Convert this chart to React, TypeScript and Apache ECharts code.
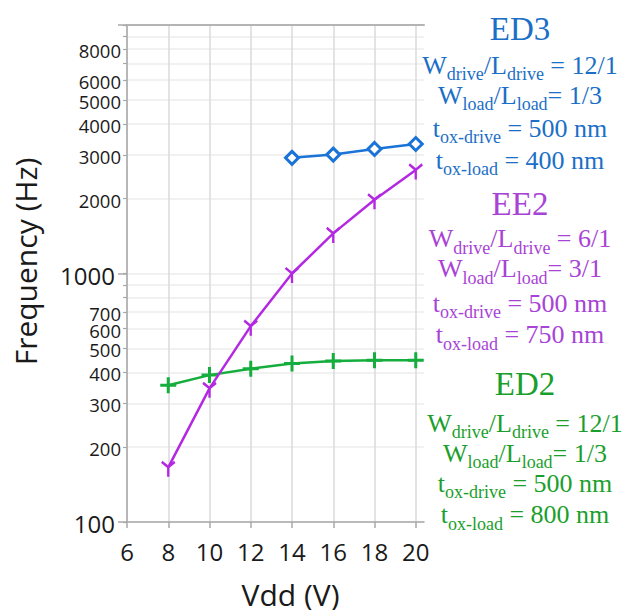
import React, { useEffect, useRef } from 'react';
import * as echarts from 'echarts';

// ---- data ----
const vdd = [8, 10, 12, 14, 16, 18, 20];
const ed3Vdd = [14, 16, 18, 20];
const ed3Freq = [2920, 3010, 3170, 3320];
const ee2Freq = [166, 345, 614, 1000, 1450, 1980, 2610];
const ed2Freq = [355, 390, 414, 434, 445, 448, 448];

const xTickValues = [6, 8, 10, 12, 14, 16, 18, 20];
const yLabelValues = [100, 200, 300, 400, 500, 600, 700, 1000, 2000, 3000, 4000, 5000, 6000, 8000];
const yTickValues = [100, 200, 300, 400, 500, 600, 700, 800, 900, 1000, 2000, 3000, 4000, 5000, 6000, 7000, 8000, 9000, 10000];
const yMajorTicks = [100, 1000, 10000];

const ed3Notes = ['ED3', 'W_{drive}/L_{drive} = 12/1', 'W_{load}/L_{load}= 1/3', 't_{ox-drive} = 500 nm', 't_{ox-load} = 400 nm'];
const ee2Notes = ['EE2', 'W_{drive}/L_{drive} = 6/1', 'W_{load}/L_{load}= 3/1', 't_{ox-drive} = 500 nm', 't_{ox-load} = 750 nm'];
const ed2Notes = ['ED2', 'W_{drive}/L_{drive} = 12/1', 'W_{load}/L_{load}= 1/3', 't_{ox-drive} = 500 nm', 't_{ox-load} = 800 nm'];

const BLUE = '#1a73d6';
const BLUE_T = '#1b6fc6';
const PURPLE = '#b428e2';
const PURPLE_T = '#a843d6';
const GREEN = '#15ad3d';
const GREEN_T = '#1b9f2c';

function toRich(line: string) {
  const parts = line.split(/_\{([^}]*)\}/);
  return parts
    .map((p, i) => (p === '' ? '' : i % 2 ? `{s|${p}}` : `{m|${p}}`))
    .join('');
}

function noteBlock(lines: string[], cx: number, ys: number[], color: string) {
  const serif = '"Liberation Serif", "Times New Roman", serif';
  return lines.map((line, i) => {
    if (i === 0) {
      return {
        type: 'text',
        x: cx,
        y: ys[i],
        style: {
          text: line,
          fill: color,
          fontSize: 33,
          fontFamily: serif,
          textAlign: 'center',
          textVerticalAlign: 'middle',
        },
      };
    }
    return {
      type: 'text',
      x: cx,
      y: ys[i],
      style: {
        text: toRich(line),
        fill: color,
        textAlign: 'center',
        textVerticalAlign: 'middle',
        rich: {
          m: { fontSize: 26, fontFamily: serif, fill: color, color },
          s: { fontSize: 18, fontFamily: serif, fill: color, color, padding: [18, 0, 0, 0] },
        },
      },
    };
  });
}

export default function App() {
  const ref = useRef<HTMLDivElement>(null);
  useEffect(() => {
    if (!ref.current) return;
    const chart = echarts.init(ref.current, null, { renderer: 'svg' });
    const sans = '"Open Sans", "Noto Sans", sans-serif';
    const axisColor = '#a8a8a8';
    const textColor = '#1a1a1a';

    const plusSym = 'path://M0,-8 L0,8 M-8,0 L8,0';
    const ySym = 'path://M-6,-5 L0,0 L6,-5 M0,0 L0,9';

    chart.setOption({
      animation: false,
      grid: { left: 127, top: 25, width: 297, height: 497, containLabel: false, outerBoundsMode: 'none' },
      xAxis: [
        {
          type: 'value',
          position: 'bottom',
          min: 6,
          max: 20.4,
          interval: 2,
          axisLine: { show: true, onZero: false, lineStyle: { color: axisColor, width: 1.5 } },
          axisTick: { show: true, customValues: xTickValues, length: 6, lineStyle: { color: axisColor, width: 1.5 } },
          axisLabel: { customValues: xTickValues, fontSize: 24, color: textColor, fontFamily: sans, margin: 17 },
          splitLine: { show: true, lineStyle: { color: '#dadada', width: 1.5 } },
          name: 'Vdd (V)',
          nameLocation: 'middle',
          nameGap: 57,
          nameTextStyle: { fontSize: 30, color: textColor, fontFamily: sans, padding: [0, 0, 0, 30] },
        },
        {
          type: 'value',
          position: 'top',
          min: 6,
          max: 20.4,
          axisLine: { show: true, onZero: false, lineStyle: { color: '#b4b4b4', width: 2 } },
          axisTick: { show: false },
          axisLabel: { show: false },
          splitLine: { show: false },
        },
      ],
      yAxis: [
        {
          type: 'log',
          position: 'left',
          logBase: 10,
          min: 100,
          max: 10000,
          axisLine: { show: true, lineStyle: { color: axisColor, width: 1.5 } },
          axisTick: { show: true, customValues: yTickValues, length: 4, lineStyle: { color: axisColor, width: 1.2 } },
          axisLabel: {
            customValues: yLabelValues,
            margin: 6,
            color: textColor,
            fontFamily: sans,
            fontSize: 18.5,
            formatter: (v: number) => {
              const r = Math.round(v);
              return r === 100 || r === 1000 ? `{b|${r}}` : `{s|${r}}`;
            },
            rich: {
              s: { fontSize: 18.5, fontFamily: sans, color: textColor, padding: [3, 0, 0, 0] },
              b: { fontSize: 24, fontFamily: sans, color: textColor, padding: [3, 6, 0, 0] },
            },
          },
          splitLine: { show: true, lineStyle: { color: '#ececec', width: 1.5 } },
          name: 'Frequency (Hz)',
          nameLocation: 'middle',
          nameGap: 87,
          nameTextStyle: { fontSize: 30, color: textColor, fontFamily: sans, padding: [0, 0, 0, 24] },
        },
        {
          type: 'log',
          position: 'left',
          logBase: 10,
          min: 100,
          max: 10000,
          axisLine: { show: false },
          axisTick: { show: true, customValues: yMajorTicks, length: 9, lineStyle: { color: axisColor, width: 1.5 } },
          axisLabel: { show: false },
          splitLine: { show: false },
        },
      ],
      graphic: [
        ...noteBlock(ed3Notes, 520, [29, 65, 95, 128, 160], BLUE_T),
        ...noteBlock(ee2Notes, 520, [204, 238.5, 268.5, 303, 334.5], PURPLE_T),
        ...noteBlock(ed2Notes, 525, [384, 423, 453, 483, 514.5], GREEN_T),
      ],
      series: [
        {
          name: 'ED2',
          type: 'line',
          data: vdd.map((x, i) => [x, ed2Freq[i]]),
          symbol: plusSym,
          symbolSize: 16,
          lineStyle: { color: GREEN, width: 2.5 },
          itemStyle: { color: 'rgba(0,0,0,0)', borderColor: GREEN, borderWidth: 3 },
          z: 2,
        },
        {
          name: 'EE2',
          type: 'line',
          data: vdd.map((x, i) => [x, ee2Freq[i]]),
          symbol: ySym,
          symbolSize: [13, 15],
          symbolOffset: [0, 2],
          lineStyle: { color: PURPLE, width: 2.5 },
          itemStyle: { color: 'rgba(0,0,0,0)', borderColor: PURPLE, borderWidth: 2.5 },
          z: 3,
        },
        {
          name: 'ED3',
          type: 'line',
          data: ed3Vdd.map((x, i) => [x, ed3Freq[i]]),
          symbol: 'diamond',
          symbolSize: 13,
          lineStyle: { color: BLUE, width: 2.5 },
          itemStyle: { color: '#ffffff', borderColor: BLUE, borderWidth: 3 },
          z: 4,
        },
      ],
    });
    return () => chart.dispose();
  }, []);
  return <div ref={ref} style={{ position: 'absolute', left: 0, top: 0, width: 625, height: 610 }} />;
}
